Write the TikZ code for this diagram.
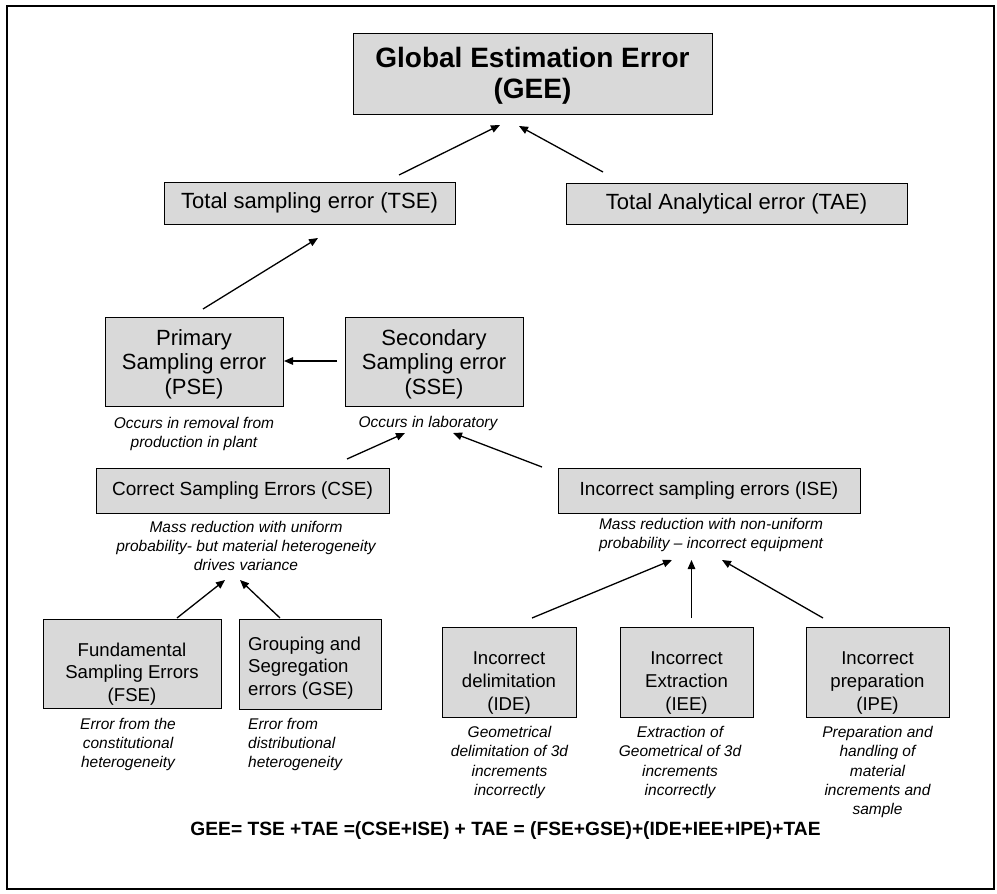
\documentclass[tikz,border=0pt]{standalone}
\usepackage{fontspec}
\setmainfont{Liberation Sans}
\usetikzlibrary{arrows.meta}
\definecolor{boxgray}{HTML}{D9D9D9}
\begin{document}
\begin{tikzpicture}[x=1pt,y=-1pt,
  box/.style={draw=black,fill=boxgray,line width=0.9pt,inner sep=0pt,align=center},
  boxtxt/.style={inner sep=0pt,align=center},
  bigtxt/.style={font=\fontsize{22}{24.5}\selectfont},
  midtxt/.style={font=\fontsize{19}{24}\selectfont},
  smtxt/.style={font=\fontsize{18.6}{22.7}\selectfont},
  captxt/.style={inner sep=0pt,align=center,font=\fontsize{15.5}{19.2}\selectfont\itshape},
  arr/.style={line width=1.3pt,-{Triangle[length=9pt,width=7.5pt]}}]
\useasboundingbox (0,0) rectangle (997,894);
\draw[line width=1.6pt] (7,6) rectangle (994,889);

% boxes
\node[box,minimum width=359pt,minimum height=81pt] (gee) at (532.5,73.5) {};
\node[boxtxt,font=\fontsize{28}{31.5}\selectfont\bfseries] (geet) at (532.5,76) {Global Estimation Error\\(GEE)};
\node[box,bigtxt,minimum width=291pt,minimum height=42pt] (tse) at (309.5,203) {Total sampling error (TSE)};
\node[box,bigtxt,minimum width=341pt,minimum height=41pt] (tae) at (736.5,203.5) {Total Analytical error (TAE)};
\node[box,minimum width=178pt,minimum height=89pt] (pse) at (194,361.5) {};
\node[boxtxt,bigtxt] (pset) at (194,364) {Primary\\Sampling error\\(PSE)};
\node[box,minimum width=178pt,minimum height=89pt] (sse) at (434,361.5) {};
\node[boxtxt,bigtxt] (sset) at (434,364) {Secondary\\Sampling error\\(SSE)};
\node[box,midtxt,minimum width=293pt,minimum height=45pt] (cse) at (242.5,490.5) {Correct Sampling Errors (CSE)};
\node[box,midtxt,minimum width=302pt,minimum height=45pt] (ise) at (709,490.5) {Incorrect sampling errors (ISE)};
\node[box,minimum width=178pt,minimum height=89pt] (fse) at (132,664) {};
\node[boxtxt,smtxt] (fset) at (132,674) {Fundamental\\Sampling Errors\\(FSE)};
\node[box,minimum width=142pt,minimum height=90pt] (gse) at (310,664) {};
\node[boxtxt,smtxt,align=left,anchor=west] (gset) at (248,668) {Grouping and\\Segregation\\errors (GSE)};
\node[box,minimum width=134pt,minimum height=90pt] (ide) at (509,672) {};
\node[boxtxt,smtxt] (idet) at (509,683) {Incorrect\\delimitation\\(IDE)};
\node[box,minimum width=133pt,minimum height=90pt] (iee) at (686.5,672) {};
\node[boxtxt,smtxt] (ieet) at (686.5,683) {Incorrect\\Extraction\\(IEE)};
\node[box,minimum width=143pt,minimum height=90pt] (ipe) at (877.5,672) {};
\node[boxtxt,smtxt] (ipet) at (877.5,683) {Incorrect\\preparation\\(IPE)};

% captions
\node[captxt] (psec) at (194,434) {Occurs in removal from\\production in plant};
\node[captxt] (ssec) at (428,423.5) {Occurs in laboratory};
\node[captxt] (csec) at (246,546) {Mass reduction with uniform\\probability- but material heterogeneity\\drives variance};
\node[captxt] (isec) at (711,535) {Mass reduction with non-uniform\\probability -- incorrect equipment};
\node[captxt] (fsec) at (128,744.5) {Error from the\\constitutional\\heterogeneity};
\node[captxt,align=left,anchor=west] (gsec) at (248,744.5) {Error from\\distributional\\heterogeneity};
\node[captxt] (idec) at (509.5,762.5) {Geometrical\\delimitation of 3d\\increments\\incorrectly};
\node[captxt] (ieec) at (680,762.5) {Extraction of\\Geometrical of 3d\\increments\\incorrectly};
\node[captxt] (ipec) at (877.5,772) {Preparation and\\handling of\\material\\increments and\\sample};

\node[inner sep=0pt,font=\fontsize{19.2}{22}\selectfont\bfseries] (formula) at (505.5,831) {GEE= TSE +TAE =(CSE+ISE) + TAE = (FSE+GSE)+(IDE+IEE+IPE)+TAE};

% connector end points
\coordinate (a1s) at (399,175);  \coordinate (a1e) at (500,125);
\coordinate (a2s) at (603,172);  \coordinate (a2e) at (519,126);
\coordinate (a3s) at (203,309);  \coordinate (a3e) at (318,238);
\coordinate (a4s) at (337,361);  \coordinate (a4e) at (284,361);
\coordinate (a5s) at (347,459);  \coordinate (a5e) at (405,433);
\coordinate (a6s) at (542,467);  \coordinate (a6e) at (453,433);
\coordinate (a7s) at (532,618);  \coordinate (a7e) at (672,560);
\coordinate (a8s) at (691.5,618);\coordinate (a8e) at (691.5,560);
\coordinate (a9s) at (823,618);  \coordinate (a9e) at (722,560);
\coordinate (a10s) at (177,618); \coordinate (a10e) at (225,580);
\coordinate (a11s) at (280,618); \coordinate (a11e) at (240,580);

\draw[arr] (a1s) -- (a1e);
\draw[arr] (a2s) -- (a2e);
\draw[arr] (a3s) -- (a3e);
\draw[arr] (a4s) -- (a4e);
\draw[arr] (a5s) -- (a5e);
\draw[arr] (a6s) -- (a6e);
\draw[arr] (a7s) -- (a7e);
\draw[arr] (a8s) -- (a8e);
\draw[arr] (a9s) -- (a9e);
\draw[arr] (a10s) -- (a10e);
\draw[arr] (a11s) -- (a11e);
\end{tikzpicture}
\end{document}
